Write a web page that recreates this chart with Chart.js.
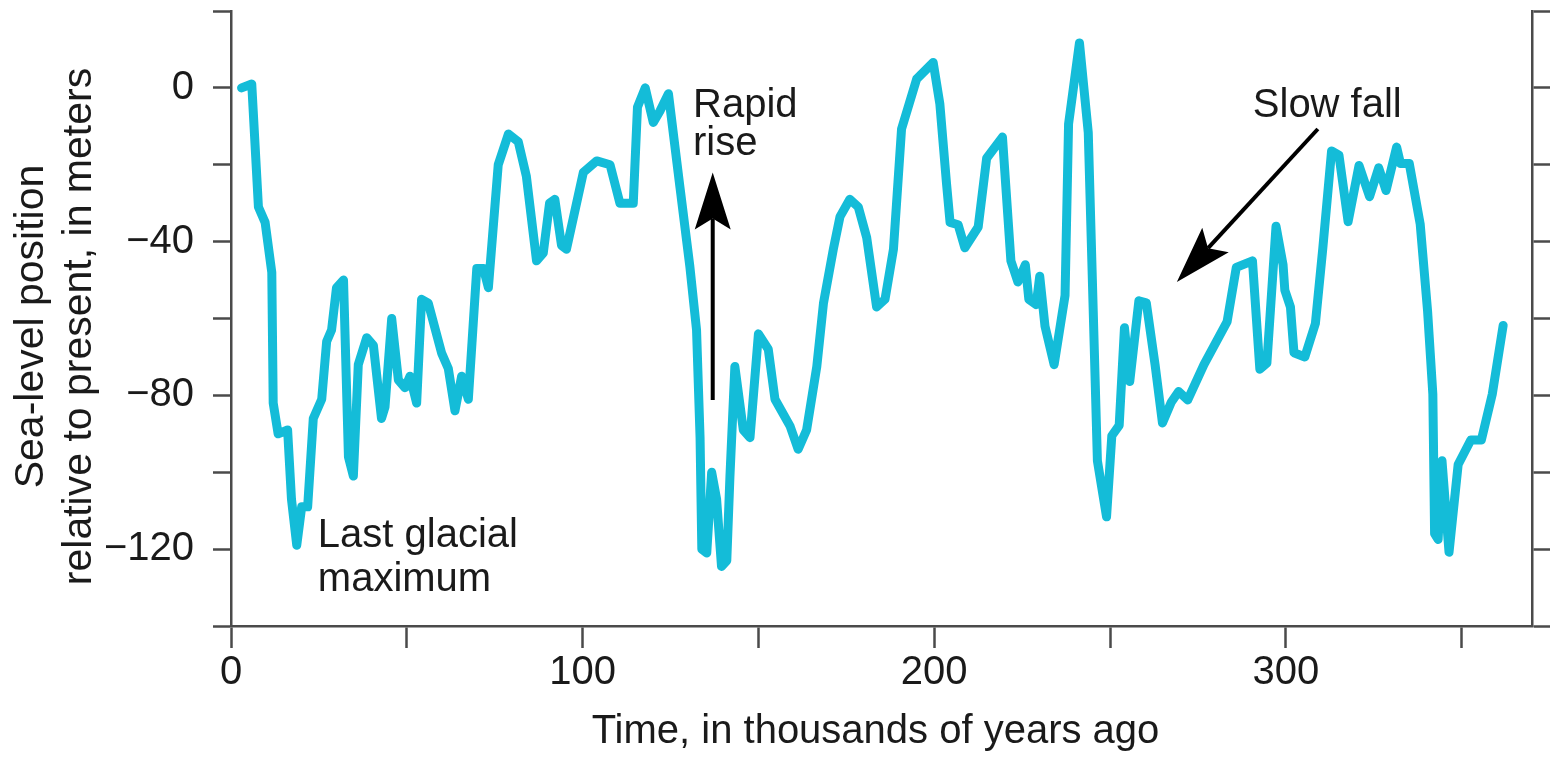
<!DOCTYPE html>
<html>
<head>
<meta charset="utf-8">
<script src="https://cdn.jsdelivr.net/npm/chart.js@4.4.1/dist/chart.umd.min.js"></script>
<style>
  html, body { margin: 0; padding: 0; background: #fff; }
  #wrap { width: 1567px; height: 759px; }
</style>
</head>
<body>
<div id="wrap"><canvas id="seaChart" width="1567" height="759"></canvas></div>
<script>
// time in thousands of years ago
const timeKa = [
  3.0, 5.9, 7.8, 9.7, 11.6, 12.0, 13.4, 16.1, 17.2, 18.7, 20.1, 21.8, 23.4, 25.8, 27.2, 28.6,
  30.0, 32.0, 33.4, 34.8, 36.2, 38.6, 40.5, 42.8, 43.8, 45.7, 47.6, 49.5, 50.9, 52.8, 54.2, 56.1,
  59.9, 61.8, 63.7, 65.6, 67.5, 69.9, 71.8, 73.2, 76.0, 78.9, 81.7, 84.0, 86.9, 88.8, 90.6, 92.1,
  94.0, 95.4, 100.2, 104.0, 107.8, 110.6, 114.4, 115.6, 117.8, 120.1, 122.0, 124.4, 127.7, 130.5,
  132.4, 133.4, 133.9, 135.3, 136.7, 138.1, 139.5, 141.0, 141.9, 143.3, 145.7, 147.6, 150.0, 152.8,
  154.7, 159.0, 161.3, 163.7, 166.6, 168.5, 171.3, 173.2, 176.0, 178.4, 180.8, 183.6, 186.0, 188.4,
  190.7, 195.0, 199.7, 201.6, 203.5, 204.5, 206.8, 208.7, 212.5, 214.9, 219.4, 221.8, 223.8, 225.9,
  226.9, 229.0, 230.0, 231.5, 234.1, 237.2, 238.2, 241.3, 243.8, 246.4, 249.0, 250.5, 252.6, 254.1,
  255.6, 258.2, 260.3, 262.8, 264.9, 267.4, 269.5, 272.1, 276.7, 283.3, 285.9, 290.5, 292.6, 294.6,
  297.2, 299.2, 299.7, 301.3, 302.3, 305.4, 308.4, 310.5, 313.0, 315.1, 317.7, 320.8, 323.8, 326.4,
  328.5, 331.5, 332.6, 335.1, 338.2, 340.3, 341.8, 342.3, 343.3, 344.4, 346.4, 349.0, 352.6, 355.6,
  358.7, 361.8
];
// sea level relative to present, meters
const seaLevel = [
  0, 1, -31, -35, -48, -82, -90, -89, -107, -119, -109, -109, -86, -81, -66, -63,
  -52, -50, -96, -101, -72, -65, -67, -86, -83, -60, -76, -78, -75, -82, -55, -56,
  -69, -73, -84, -75, -81, -47, -47, -52, -20, -12, -14, -23, -45, -43, -30, -29,
  -41, -42, -22, -19, -20, -30, -30, -5, 0, -9, -6, -1.5, -26, -46.5,
  -63, -91, -120, -121, -100, -107, -124.5, -123, -101, -72.5, -89, -91, -64, -68,
  -81, -88, -94, -89, -72.5, -56, -42, -33.5, -29, -31, -39, -57, -55, -42,
  -10.7, 2.3, 6.6, -4.2, -25, -35, -35.6, -41.6, -36.2, -18.3, -12.8, -45, -50.5, -46,
  -55, -56.4, -49, -62, -72, -54, -9.4, 11.7, -11.6, -97, -111.6, -90.5, -87.8, -62.4,
  -76.4, -55.4, -55.9, -72, -87.2, -81.8, -79, -81.2, -72, -60.8, -46.7, -45, -73.2, -71.6,
  -36, -46, -52.6, -57, -68.9, -70, -61.3, -41.8, -16.4, -17.5, -34.8, -20.2, -28.3, -20.8,
  -26.7, -15.4, -19.7, -19.7, -35.4, -58, -79.7, -116, -117.5, -97, -120.8, -98, -91.6, -91.6,
  -79.7, -61.8
];
const xTickLabels = [0, 100, 200, 300];
const yTickLabels = [0, -40, -80, -120];
const xTitle = 'Time, in thousands of years ago';
const yTitle = ['Sea-level position', 'relative to present, in meters'];

const fontFamily = '"Liberation Sans", Arial, Helvetica, sans-serif';
const axisColor = '#4a4a4a';
const textColor = '#1a1a1a';
const lineColor = '#14bcd8';

function drawArrow(ctx, x1, y1, x2, y2) {
    const ang = Math.atan2(y2 - y1, x2 - x1);
    const len = 57, half = 18, notch = 46;
    const cos = Math.cos(ang), sin = Math.sin(ang);
    ctx.beginPath();
    ctx.moveTo(x1, y1);
    ctx.lineTo(x2 - notch * cos, y2 - notch * sin);
    ctx.stroke();
    ctx.beginPath();
    ctx.moveTo(x2, y2);
    ctx.lineTo(x2 - len * cos - half * sin, y2 - len * sin + half * cos);
    ctx.lineTo(x2 - notch * cos, y2 - notch * sin);
    ctx.lineTo(x2 - len * cos + half * sin, y2 - len * sin - half * cos);
    ctx.closePath();
    ctx.fill();
}

const notesPlugin = {
    id: 'notes',
    afterDraw(chart) {
        const { ctx, chartArea, scales: { x, y } } = chart;
        ctx.save();
        ctx.fillStyle = textColor;
        ctx.strokeStyle = '#000';
        ctx.font = '40px ' + fontFamily;
        ctx.textAlign = 'left';
        ctx.textBaseline = 'alphabetic';

        // annotations
        ctx.fillText('Last glacial', x.getPixelForValue(24.7), y.getPixelForValue(-119.5));
        ctx.fillText('maximum', x.getPixelForValue(24.7), y.getPixelForValue(-131.0));
        ctx.fillText('Rapid', x.getPixelForValue(131.4), y.getPixelForValue(-7.5));
        ctx.fillText('rise', x.getPixelForValue(131.4), y.getPixelForValue(-17.5));
        ctx.fillText('Slow fall', x.getPixelForValue(290.6), y.getPixelForValue(-7.5));

        ctx.fillStyle = '#000';
        ctx.lineWidth = 4;
        drawArrow(ctx, x.getPixelForValue(137.0), y.getPixelForValue(-81.2),
                       x.getPixelForValue(137.0), y.getPixelForValue(-22.0));
        drawArrow(ctx, x.getPixelForValue(309.1), y.getPixelForValue(-10.7),
                       x.getPixelForValue(269.0), y.getPixelForValue(-50.5));

        // axis titles
        ctx.fillStyle = textColor;
        ctx.textAlign = 'center';
        ctx.fillText(xTitle, (chartArea.left + chartArea.right) / 2 - 6, 743);

        ctx.font = '41px ' + fontFamily;
        const midY = (chartArea.top + chartArea.bottom) / 2 + 8;
        [43, 91].forEach((bx, i) => {
            ctx.save();
            ctx.translate(bx, midY);
            ctx.rotate(-Math.PI / 2);
            ctx.fillText(yTitle[i], 0, 0);
            ctx.restore();
        });
        ctx.restore();
    }
};

const tickFont = { family: fontFamily, size: 40, lineHeight: 1 };

function axisGrid(len) {
    return { drawOnChartArea: false, drawTicks: true, tickLength: len, tickWidth: 2.5, tickColor: axisColor };
}
const axisBorder = { display: true, color: axisColor, width: 2.5 };

new Chart(document.getElementById('seaChart'), {
    type: 'line',
    data: {
        datasets: [{
            data: timeKa.map((t, i) => ({ x: t, y: seaLevel[i] })),
            borderColor: lineColor,
            borderWidth: 9,
            pointRadius: 0,
            tension: 0,
            fill: false,
            borderJoinStyle: 'round',
            borderCapStyle: 'round'
        }]
    },
    options: {
        responsive: false,
        animation: false,
        layout: { padding: { top: 11, left: 0, right: 0, bottom: 0 } },
        plugins: { legend: { display: false }, tooltip: { enabled: false } },
        scales: {
            x: {
                type: 'linear', position: 'bottom', min: 0, max: 370,
                ticks: {
                    stepSize: 50, includeBounds: false, autoSkip: false, maxRotation: 0,
                    padding: 5, color: textColor, font: tickFont,
                    callback: v => xTickLabels.includes(v) ? String(v) : ''
                },
                grid: axisGrid(22),
                border: axisBorder,
                afterFit: s => { s.height = 133; s.paddingLeft = 0; s.paddingRight = 0; }
            },
            y: {
                position: 'left', min: -140, max: 20,
                ticks: {
                    stepSize: 20, autoSkip: false, padding: 19, color: textColor, font: tickFont,
                    callback: v => yTickLabels.includes(v) ? String(v).replace('-', '\u2212') : ''
                },
                grid: axisGrid(18),
                border: axisBorder,
                afterFit: s => { s.width = 231; s.paddingTop = 0; s.paddingBottom = 0; }
            },
            y2: {
                position: 'right', min: -140, max: 20,
                ticks: { stepSize: 20, display: false },
                grid: axisGrid(18),
                border: axisBorder,
                afterFit: s => { s.width = 35; s.paddingTop = 0; s.paddingBottom = 0; }
            }
        }
    },
    plugins: [notesPlugin]
});
</script>
</body>
</html>
